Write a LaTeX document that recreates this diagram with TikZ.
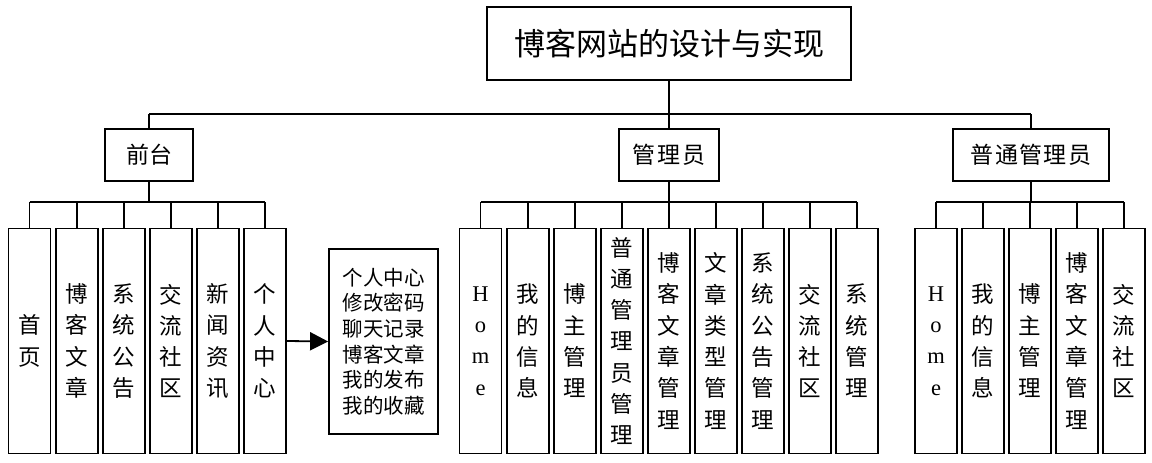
\documentclass[tikz,border=0pt]{standalone}
\usepackage{fontspec}
\setmainfont{Liberation Serif}
\newfontfamily\cjk{Noto Sans CJK SC}
\usetikzlibrary{arrows.meta}
\begin{document}
\begin{tikzpicture}[x=1pt,y=-1pt,
  box/.style={draw=black,line width=1.8pt,fill=white,inner sep=0pt,align=center},
  rootbox/.style={box,minimum width=364pt,minimum height=73pt,font=\cjk\fontsize{31}{36}\selectfont},
  midbox/.style={box,minimum height=52pt,font=\cjk\fontsize{23}{26}\selectfont},
  leaf/.style={box,minimum width=42pt,minimum height=225pt,font=\cjk\fontsize{22.5}{31.3}\selectfont},
  subbox/.style={box,minimum width=109pt,minimum height=185pt,font=\cjk\fontsize{20.5}{25.6}\selectfont},
  conn/.style={line width=1.8pt},
  every node/.append style={text=black}]
\useasboundingbox (0,0) rectangle (1152,463);
\fill[white] (0,0) rectangle (1152,463);

\node[rootbox] (root) at (669,43.5) {博客网站的设计与实现};
\node[midbox,minimum width=88pt] (qt) at (149,155) {前台};
\node[midbox,minimum width=100pt] (gly) at (669,155) {管\hspace{2pt}理\hspace{2pt}员};
\node[midbox,minimum width=156pt] (pt) at (1031,155) {普\hspace{1.5pt}通\hspace{1.5pt}管\hspace{1.5pt}理\hspace{1.5pt}员};

\coordinate (bar) at (0,114);
\coordinate (lbar) at (0,202);

% level 1 connectors
\draw[conn] (root.south) -- (root.south |- bar);
\draw[conn] (qt.north |- bar) -- (pt.north |- bar);
\draw[conn] (qt.north) -- (qt.north |- bar);
\draw[conn] (gly.north) -- (gly.north |- bar);
\draw[conn] (pt.north) -- (pt.north |- bar);

% front-end leaves
\node[leaf] (a1) at (29.5,341) {首\\页};
\node[leaf] (a2) at (77,341) {博\\客\\文\\章};
\node[leaf] (a3) at (124,341) {系\\统\\公\\告};
\node[leaf] (a4) at (171,341) {交\\流\\社\\区};
\node[leaf] (a5) at (218,341) {新\\闻\\资\\讯};
\node[leaf] (a6) at (265,341) {个\\人\\中\\心};
\node[subbox] (sub) at (383.5,341.5) {个人中心\\修改密码\\聊天记录\\博客文章\\我的发布\\我的收藏};

\draw[conn] (qt.south) -- (qt.south |- lbar);
\draw[conn] (a1.north |- lbar) -- (a6.north |- lbar);
\foreach \n in {a1,a2,a3,a4,a5,a6} \draw[conn] (\n.north) -- (\n.north |- lbar);
\draw[conn,-{Triangle[length=18pt,width=18pt]}] (a6.east) -- (sub.west);

% admin leaves
\node[leaf] (b1) at (480.5,341) {\rmfamily H\\\rmfamily o\\\rmfamily m\\\rmfamily e};
\node[leaf] (b2) at (528,341) {我\\的\\信\\息};
\node[leaf] (b3) at (575,341) {博\\主\\管\\理};
\node[leaf] (b4) at (622,341) {普\\通\\管\\理\\员\\管\\理};
\node[leaf] (b5) at (669,341) {博\\客\\文\\章\\管\\理};
\node[leaf] (b6) at (716,341) {文\\章\\类\\型\\管\\理};
\node[leaf] (b7) at (763,341) {系\\统\\公\\告\\管\\理};
\node[leaf] (b8) at (810,341) {交\\流\\社\\区};
\node[leaf] (b9) at (857,341) {系\\统\\管\\理};

\draw[conn] (gly.south) -- (gly.south |- lbar);
\draw[conn] (b1.north |- lbar) -- (b9.north |- lbar);
\foreach \n in {b1,b2,b3,b4,b5,b6,b7,b8,b9} \draw[conn] (\n.north) -- (\n.north |- lbar);

% ordinary admin leaves
\node[leaf] (c1) at (936,341) {\rmfamily H\\\rmfamily o\\\rmfamily m\\\rmfamily e};
\node[leaf] (c2) at (983,341) {我\\的\\信\\息};
\node[leaf] (c3) at (1030,341) {博\\主\\管\\理};
\node[leaf] (c4) at (1077,341) {博\\客\\文\\章\\管\\理};
\node[leaf] (c5) at (1124,341) {交\\流\\社\\区};

\draw[conn] (pt.south) -- (pt.south |- lbar);
\draw[conn] (c1.north |- lbar) -- (c5.north |- lbar);
\foreach \n in {c1,c2,c3,c4,c5} \draw[conn] (\n.north) -- (\n.north |- lbar);
\end{tikzpicture}
\end{document}
